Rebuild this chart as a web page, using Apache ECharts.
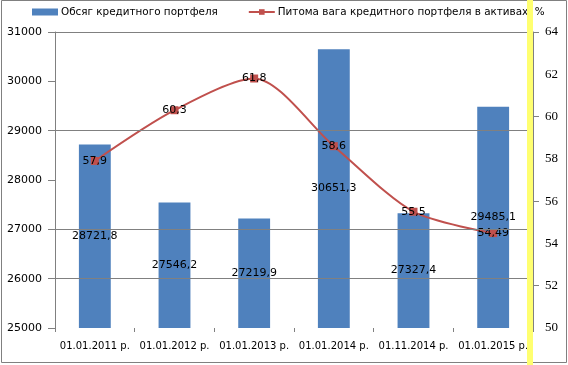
<!DOCTYPE html>
<html><head><meta charset="utf-8">
<script src="https://cdn.jsdelivr.net/npm/echarts@6/dist/echarts.min.js"></script>
<style>html,body{margin:0;padding:0;background:#fff}#c{width:568px;height:365px}</style>
</head><body><div id="c"></div>
<script>
const categories = ['01.01.2011 р.', '01.01.2012 р.', '01.01.2013 р.', '01.01.2014 р.', '01.11.2014 р.', '01.01.2015 р.'];
const portfolioVolume = [28721.8, 27546.2, 27219.9, 30651.3, 27327.4, 29485.1];
const portfolioShare = [57.9, 60.3, 61.8, 58.6, 55.5, 54.49];
const leftGridValues = [26000, 27000, 29000, 31000];
const rightTicks = [52, 56, 60, 64];
const seriesNames = ['Обсяг кредитного портфеля', 'Питома вага кредитного портфеля в активах, %'];

const fmtComma = v => String(v).replace('.', ',');
const chart = echarts.init(document.getElementById('c'), null, {renderer: 'canvas'});
const gray = '#808080';
const font = 'DejaVu Sans';
chart.setOption({
  animation: false,
  textStyle: {fontFamily: font},
  graphic: [
    {type: 'rect', shape: {x: 1.5, y: 0.5, width: 565, height: 362}, style: {fill: 'none', stroke: gray, lineWidth: 1}, z: -10},
    {type: 'rect', shape: {x: 527, y: 0, width: 6, height: 365}, style: {fill: '#FFFF70'}, z: 100}
  ],
  legend: {
    left: 32, top: 7, itemGap: 30, itemWidth: 26, itemHeight: 7, padding: 0, width: 540,
    textStyle: {fontFamily: font, fontSize: 10.4, color: '#000', padding: [0, 0, 0, -2]},
    data: [{name: seriesNames[0], icon: 'rect'}, {name: seriesNames[1]}]
  },
  grid: {left: 55, right: 35, top: 32, bottom: 37},
  xAxis: {
    type: 'category', data: categories, boundaryGap: true,
    axisLine: {show: false},
    axisTick: {show: true, length: 4, lineStyle: {color: gray}},
    axisLabel: {fontFamily: font, fontSize: 10, color: '#000', margin: 13, interval: 0}
  },
  yAxis: [
    {type: 'value', min: 25000, max: 31000, interval: 1000,
     axisLine: {show: true, lineStyle: {color: gray}},
     axisTick: {show: true, length: 7, lineStyle: {color: gray}},
     splitLine: {show: false},
     axisLabel: {fontFamily: font, fontSize: 11, color: '#000', margin: 13, formatter: v => String(v)}},
    {type: 'value', min: 50, max: 64, interval: 2, position: 'right',
     axisLine: {show: true, lineStyle: {color: gray}},
     axisTick: {show: true, length: 6, lineStyle: {color: gray}, customValues: rightTicks},
     splitLine: {show: false},
     axisLabel: {fontFamily: 'Liberation Serif', fontSize: 13, color: '#000', margin: 12}}
  ],
  series: [
    {name: seriesNames[0], type: 'bar', data: portfolioVolume, barWidth: '40%',
     itemStyle: {color: '#4F81BD'},
     label: {show: true, position: 'inside', color: '#000', fontFamily: font, fontSize: 11,
             formatter: p => fmtComma(p.value)},
     markLine: {symbol: ['none', 'none'],
                label: {show: false},
                lineStyle: {color: gray, type: 'solid', width: 1.2},
                data: leftGridValues.map(v => ({yAxis: v}))}},
    {name: seriesNames[1], type: 'line', yAxisIndex: 1, data: portfolioShare, smooth: 0.28,
     symbol: 'rect', symbolSize: 8,
     lineStyle: {color: '#C0504D', width: 2}, itemStyle: {color: '#C0504D'},
     label: {show: true, position: 'inside', color: '#000', fontFamily: font, fontSize: 11,
             formatter: p => fmtComma(p.value)}}
  ]
});
</script></body></html>
